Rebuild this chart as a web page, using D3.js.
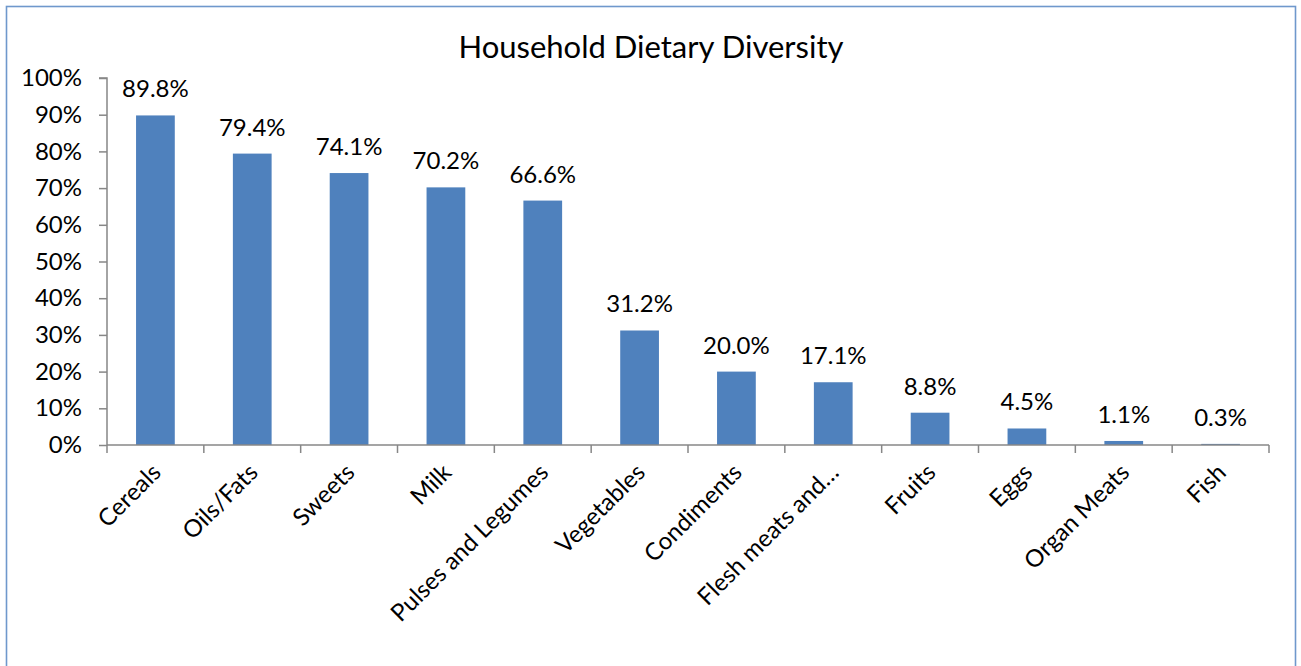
<!DOCTYPE html>
<html>
<head>
<meta charset="utf-8">
<script src="https://cdn.jsdelivr.net/npm/d3@7"></script>
<style>
  html, body { margin: 0; padding: 0; background: #fff; }
  svg { display: block; font-family: "Lato", "Open Sans", sans-serif; }
</style>
</head>
<body>
<svg id="chart" width="1301" height="666"></svg>
<script>
// Food groups and the share of households consuming each
const categories = ["Cereals", "Oils/Fats", "Sweets", "Milk", "Pulses and Legumes", "Vegetables",
  "Condiments", "Flesh meats and\u2026", "Fruits", "Eggs", "Organ Meats", "Fish"];
const shares = [89.8, 79.4, 74.1, 70.2, 66.6, 31.2, 20.0, 17.1, 8.8, 4.5, 1.1, 0.3];
const yTicks = [0, 10, 20, 30, 40, 50, 60, 70, 80, 90, 100];

const svg = d3.select("#chart");
const plot = { left: 107, right: 1269, top: 78, bottom: 445 };

// outer frame
svg.append("rect")
  .attr("x", 6.5).attr("y", 6.5)
  .attr("width", 1289).attr("height", 700)
  .attr("fill", "none")
  .attr("stroke", "#6f98cc")
  .attr("stroke-width", 1.6);

svg.append("text")
  .attr("x", 651).attr("y", 58)
  .attr("text-anchor", "middle")
  .attr("font-size", 31)
  .attr("fill", "#000")
  .text("Household Dietary Diversity");

const x = d3.scaleBand().domain(categories).range([plot.left, plot.right]).padding(0);
const y = d3.scaleLinear().domain([0, 100]).range([plot.bottom, plot.top]);
const barW = x.bandwidth() * 0.4;

// y axis
const yAxis = svg.append("g")
  .attr("transform", `translate(${plot.left},0)`)
  .call(d3.axisLeft(y).tickValues(yTicks).tickFormat(d => d + "%").tickSize(8).tickPadding(17));
yAxis.selectAll("path, line").attr("stroke", "#878787").attr("stroke-width", 1.5);
yAxis.select(".domain").attr("d", `M-8,${plot.top}H0V${plot.bottom}`);
yAxis.selectAll("text").attr("font-size", 24).attr("fill", "#000").attr("font-family", "Lato, sans-serif");

// bars
svg.append("g").selectAll("rect")
  .data(categories)
  .join("rect")
  .attr("x", d => x(d) + (x.bandwidth() - barW) / 2)
  .attr("y", (d, i) => y(shares[i]))
  .attr("width", barW)
  .attr("height", (d, i) => y(0) - y(shares[i]))
  .attr("fill", "#4f81bd");

// value labels
svg.append("g").selectAll("text")
  .data(categories)
  .join("text")
  .attr("x", d => x(d) + x.bandwidth() / 2)
  .attr("y", (d, i) => y(shares[i]) - 18)
  .attr("text-anchor", "middle")
  .attr("font-size", 24)
  .attr("fill", "#000")
  .text((d, i) => shares[i].toFixed(1) + "%");

// x axis: ticks between categories
const xAxis = svg.append("g");
xAxis.append("line")
  .attr("x1", plot.left).attr("x2", plot.right)
  .attr("y1", plot.bottom).attr("y2", plot.bottom)
  .attr("stroke", "#878787").attr("stroke-width", 1.5);
xAxis.selectAll("line.tick")
  .data(categories.concat([null]))
  .join("line")
  .attr("class", "tick")
  .attr("x1", (d, i) => plot.left + i * x.step())
  .attr("x2", (d, i) => plot.left + i * x.step())
  .attr("y1", plot.bottom).attr("y2", plot.bottom + 8)
  .attr("stroke", "#878787").attr("stroke-width", 1.5);

xAxis.selectAll("text")
  .data(categories)
  .join("text")
  .attr("transform", d => `translate(${x(d) + x.bandwidth() / 2 + 7},${plot.bottom + 29}) rotate(-45)`)
  .attr("text-anchor", "end")
  .attr("font-size", 24)
  .attr("fill", "#000")
  .text(d => d);
</script>
</body>
</html>
